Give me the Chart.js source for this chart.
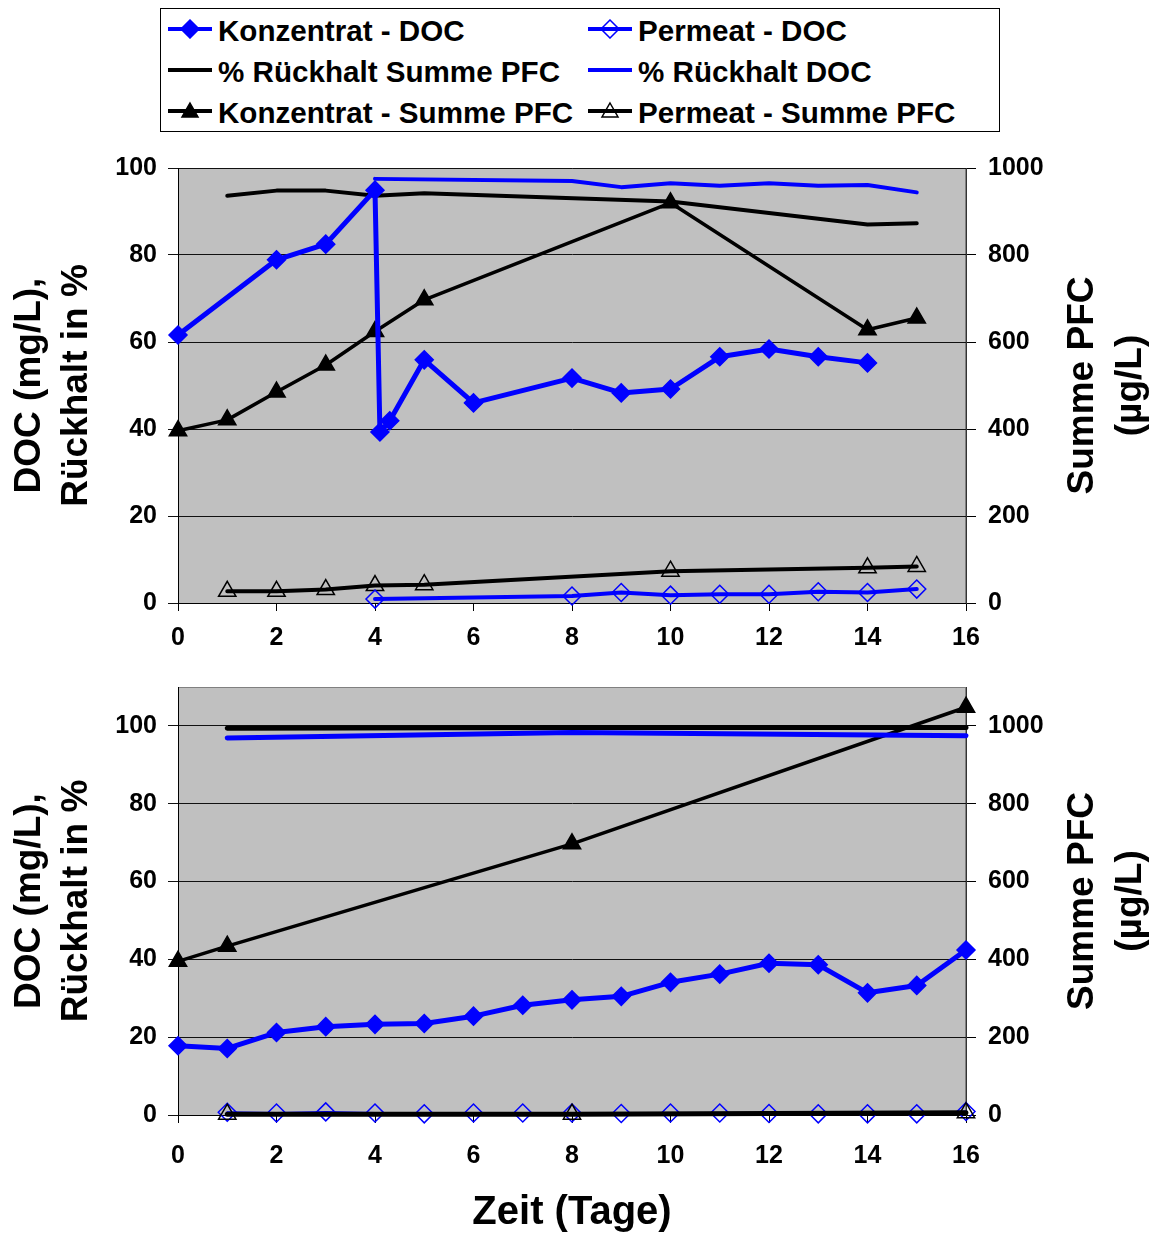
<!DOCTYPE html>
<html lang="de">
<head>
<meta charset="utf-8">
<title>DOC und Summe PFC</title>
<script src="https://cdn.jsdelivr.net/npm/chart.js@4.4.1/dist/chart.umd.min.js"></script>
<style>
  html, body { margin: 0; padding: 0; background: #fff; }
  body { width: 1158px; height: 1234px; position: relative; overflow: hidden;
         font-family: "Liberation Sans", Arial, sans-serif; }
  #legend { position: absolute; left: 160px; top: 8px; width: 840px; height: 124px;
            border: 1px solid #000; box-sizing: border-box; background: #fff; }
  .item { position: absolute; height: 34px; line-height: 34px; font-size: 29.6px;
          font-weight: bold; white-space: nowrap; color: #000; }
  .item svg { position: absolute; left: 0; top: 5px; }
  .item span { position: absolute; left: 51px; top: 0; }
  canvas { position: absolute; left: 0; }
</style>
</head>
<body>
<div id="legend"></div>
<canvas id="chartTop" width="1158" height="520" style="top:140px"></canvas>
<canvas id="chartBottom" width="1158" height="574" style="top:660px"></canvas>
<script>
// series names, same order in both panels
const seriesLabels = ['Konzentrat - DOC', 'Permeat - DOC', '% Rückhalt Summe PFC',
                      '% Rückhalt DOC', 'Konzentrat - Summe PFC', 'Permeat - Summe PFC'];

// axis ticks
const dayTicks = [0, 2, 4, 6, 8, 10, 12, 14, 16];
const docTicks = [0, 20, 40, 60, 80, 100];
const pfcTicks = [0, 200, 400, 600, 800, 1000];

// upper panel
const topKonzDocX = [0, 2, 3, 4, 4.1, 4.3, 5, 6, 8, 9, 10, 11, 12, 13, 14];
const topKonzDocY = [61.6, 78.9, 82.5, 94.9, 39.3, 41.9, 55.9, 46.0, 51.7, 48.3, 49.2, 56.6, 58.4, 56.6, 55.2];
const topPermDocX = [4, 8, 9, 10, 11, 12, 13, 14, 15];
const topPermDocY = [0.9, 1.6, 2.4, 1.8, 2.0, 2.0, 2.6, 2.4, 3.2];
const topRueckPfcX = [1, 2, 3, 4, 5, 10, 14, 15];
const topRueckPfcY = [93.6, 94.8, 94.8, 93.6, 94.2, 92.3, 87.0, 87.3];
const topRueckDocX = [4, 8, 9, 10, 11, 12, 13, 14, 15];
const topRueckDocY = [97.5, 97.0, 95.6, 96.5, 95.9, 96.5, 95.9, 96.1, 94.4];
const topKonzPfcX = [0, 1, 2, 3, 4, 5, 10, 14, 15];
const topKonzPfcY = [396, 421, 485, 547, 624, 697, 920, 628, 655];
const topPermPfcX = [1, 2, 3, 4, 5, 10, 14, 15];
const topPermPfcY = [27, 27, 31, 40, 42, 73, 81, 84];

// lower panel
const botKonzDocX = [0, 1, 2, 3, 4, 5, 6, 7, 8, 9, 10, 11, 12, 13, 14, 15, 16];
const botKonzDocY = [17.8, 17.1, 21.2, 22.7, 23.3, 23.5, 25.4, 28.2, 29.6, 30.5, 34.1, 36.2, 39.0, 38.6, 31.4, 33.3, 42.4];
const botPermDocX = [1, 2, 3, 4, 5, 6, 7, 8, 9, 10, 11, 12, 13, 14, 15, 16];
const botPermDocY = [0.7, 0.5, 0.8, 0.5, 0.3, 0.5, 0.5, 0.5, 0.4, 0.5, 0.5, 0.4, 0.3, 0.3, 0.3, 0.9];
const botRueckPfcX = [1, 8, 16];
const botRueckPfcY = [99.4, 99.6, 99.6];
const botRueckDocX = [1, 8, 16];
const botRueckDocY = [96.9, 98.3, 97.5];
const botKonzPfcX = [0, 1, 8, 16];
const botKonzPfcY = [395, 434, 697, 1048];
const botPermPfcX = [1, 8, 16];
const botPermPfcY = [2, 2, 6];

const BLUE = '#0000ff';
const BLACK = '#000000';
const NONE = 'rgba(0,0,0,0)';
const FONT = 'Liberation Sans';

const styles = [
  { color: BLUE,  axis: 'y',  marker: 'rectRot',  radius: 9,  fill: BLUE },
  { color: BLUE,  axis: 'y',  marker: 'rectRot',  radius: 9,  fill: NONE },
  { color: BLACK, axis: 'y',  marker: null,       radius: 0,  fill: NONE },
  { color: BLUE,  axis: 'y',  marker: null,       radius: 0,  fill: NONE },
  { color: BLACK, axis: 'y2', marker: 'triangle', radius: 10, fill: BLACK },
  { color: BLACK, axis: 'y2', marker: 'triangle', radius: 10, fill: NONE }
];

function points(xs, ys) {
  return xs.map((x, i) => ({ x: x, y: ys[i] }));
}

// widths: line width per series; under: series drawn beneath the others
function buildDatasets(series, widths, under) {
  return series.map((s, i) => {
    const st = styles[i];
    return {
      label: seriesLabels[i],
      data: points(s[0], s[1]),
      yAxisID: st.axis,
      order: under.includes(i) ? 1 : 0,
      showLine: true,
      tension: 0,
      clip: false,
      borderColor: st.color,
      borderWidth: widths[i],
      borderJoinStyle: 'round',
      borderCapStyle: 'round',
      pointStyle: st.marker || 'circle',
      pointRadius: st.radius,
      pointHoverRadius: st.radius,
      pointBackgroundColor: st.fill,
      pointBorderColor: st.color,
      pointBorderWidth: 1.5
    };
  });
}

function fixedTicks(values) {
  return scale => { scale.ticks = values.map(v => ({ value: v })); };
}

function makeScales(p) {
  const tickFont = { family: FONT, size: 25, weight: 'bold' };
  const plain = v => String(v);
  return {
    x: {
      type: 'linear', min: 0, max: 16,
      afterBuildTicks: fixedTicks(dayTicks),
      afterFit: s => { s.height = p.xHeight; },
      ticks: { font: tickFont, color: BLACK, padding: p.xPad, maxRotation: 0, autoSkip: false, callback: plain },
      grid: { drawOnChartArea: false, tickLength: 8, color: BLACK },
      border: { color: BLACK, width: 1 }
    },
    y: {
      type: 'linear', position: 'left', min: 0, max: p.yMax,
      afterBuildTicks: fixedTicks(docTicks),
      afterFit: s => { s.width = 178; },
      ticks: { font: tickFont, color: BLACK, padding: 11, callback: plain },
      grid: { color: '#111', lineWidth: 1, tickLength: 10 },
      border: { color: BLACK, width: 1 }
    },
    y2: {
      type: 'linear', position: 'right', min: 0, max: p.yMax * 10,
      afterBuildTicks: fixedTicks(pfcTicks),
      afterFit: s => { s.width = 192; },
      ticks: { font: tickFont, color: BLACK, padding: 12, callback: plain },
      grid: { drawOnChartArea: false, color: BLACK, tickLength: 10 },
      border: { color: '#333', width: 1 }
    }
  };
}

// grey plot area plus the axis titles drawn onto the canvas
const frame = {
  id: 'frame',
  beforeDraw(chart) {
    const a = chart.chartArea;
    const ctx = chart.ctx;
    ctx.save();
    ctx.fillStyle = '#c0c0c0';
    ctx.fillRect(a.left, a.top, a.right - a.left, a.bottom - a.top);
    ctx.strokeStyle = '#808080';
    ctx.lineWidth = 1;
    ctx.strokeRect(a.left + 0.5, a.top + 0.5, a.right - a.left - 1, a.bottom - a.top);
    ctx.restore();
  },
  afterDraw(chart, args, opts) {
    const a = chart.chartArea;
    const ctx = chart.ctx;
    const cy = (a.top + a.bottom) / 2;
    ctx.save();
    ctx.fillStyle = BLACK;
    ctx.textAlign = 'center';
    ctx.textBaseline = 'middle';
    ctx.font = 'bold 37px "' + FONT + '"';
    const vertical = (lines, xs) => {
      lines.forEach((t, i) => {
        ctx.save();
        ctx.translate(xs[i], cy);
        ctx.rotate(-Math.PI / 2);
        ctx.fillText(t, 0, 0);
        ctx.restore();
      });
    };
    vertical(['DOC (mg/L),', 'Rückhalt in %'], [30, 77]);
    vertical(['Summe PFC', '(µg/L)'], [1083, 1131]);
    if (opts.xTitle) {
      ctx.font = 'bold 40px "' + FONT + '"';
      ctx.fillText(opts.xTitle, (a.left + a.right) / 2, opts.xTitleY);
    }
    ctx.restore();
  }
};

function makeChart(id, datasets, p) {
  return new Chart(document.getElementById(id), {
    type: 'scatter',
    data: { datasets: datasets },
    options: {
      responsive: false,
      animation: false,
      events: [],
      layout: { padding: { top: p.padTop, left: 0, right: 0, bottom: 0 } },
      scales: makeScales(p),
      plugins: {
        legend: { display: false },
        tooltip: { enabled: false },
        frame: { xTitle: p.xTitle, xTitleY: p.xTitleY }
      }
    },
    plugins: [frame]
  });
}

const topChart = makeChart('chartTop', buildDatasets([
  [topKonzDocX, topKonzDocY], [topPermDocX, topPermDocY], [topRueckPfcX, topRueckPfcY],
  [topRueckDocX, topRueckDocY], [topKonzPfcX, topKonzPfcY], [topPermPfcX, topPermPfcY]
], [5, 4, 4, 4, 3.5, 4], []), { padTop: 28, xHeight: 57, xPad: 12, yMax: 100 });

makeChart('chartBottom', buildDatasets([
  [botKonzDocX, botKonzDocY], [botPermDocX, botPermDocY], [botRueckPfcX, botRueckPfcY],
  [botRueckDocX, botRueckDocY], [botKonzPfcX, botKonzPfcY], [botPermPfcX, botPermPfcY]
], [5, 2, 5, 5, 3.5, 5], [1]), { padTop: 23, xHeight: 119, xPad: 18, yMax: 110,
  xTitle: 'Zeit (Tage)', xTitleY: 553 });

// shared legend, three rows of two entries
function markerSvg(ds) {
  let m = '';
  const c = ds.pointBorderColor;
  if (ds.pointRadius > 0 && ds.pointStyle === 'rectRot') {
    m = '<polygon points="23,1 32,10 23,19 14,10" fill="' + ds.pointBackgroundColor +
        '" stroke="' + c + '" stroke-width="1.5"/>';
  } else if (ds.pointRadius > 0 && ds.pointStyle === 'triangle') {
    m = '<polygon points="23,2 31,16 15,16" fill="' + ds.pointBackgroundColor +
        '" stroke="' + c + '" stroke-width="1.5"/>';
  }
  return '<svg width="46" height="20" viewBox="0 0 46 20">' +
    '<line x1="1" y1="10" x2="45" y2="10" stroke="' + ds.borderColor + '" stroke-width="4"/>' +
    m + '</svg>';
}

const legend = document.getElementById('legend');
topChart.data.datasets.forEach((ds, i) => {
  const el = document.createElement('div');
  el.className = 'item';
  el.style.left = (i % 2 === 0 ? 6 : 426) + 'px';
  el.style.top = (5 + Math.floor(i / 2) * 41) + 'px';
  el.innerHTML = markerSvg(ds) + '<span></span>';
  el.querySelector('span').textContent = ds.label;
  legend.appendChild(el);
});
</script>
</body>
</html>
